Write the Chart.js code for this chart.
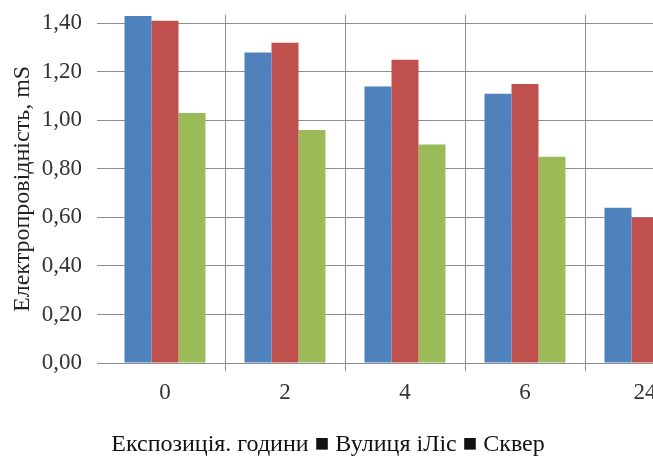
<!DOCTYPE html>
<html>
<head>
<meta charset="utf-8">
<script src="https://cdn.jsdelivr.net/npm/chart.js@4"></script>
<style>
  html, body { margin: 0; padding: 0; background: #fff; overflow: hidden; }
  #wrap { width: 720px; height: 473px; margin-top: -14px; }
</style>
</head>
<body>
<div id="wrap"><canvas id="chart" width="720" height="473"></canvas></div>
<script>
// дані з графіка
const hours = ['0', '2', '4', '6', '24'];
const seriesNames = ['Вулиця', 'Ліс', 'Сквер'];
const street = [1.43, 1.28, 1.14, 1.11, 0.64];
const forest = [1.41, 1.32, 1.25, 1.15, 0.60];
const square = [1.03, 0.96, 0.90, 0.85, null]; // останній стовпчик обрізано
const yTicks = [0, 0.2, 0.4, 0.6, 0.8, 1.0, 1.2, 1.4];
const bottomText = 'Експозиція. години ■ Вулиця іЛіс ■ Сквер';

const serif = "'Liberation Serif', 'DejaVu Serif', serif";
const gridGray = '#8e8e8e';

// підпис внизу (вісь + легенда одним рядком)
const bottomLabel = {
  id: 'bottomLabel',
  afterDraw(chart) {
    const ctx = chart.ctx;
    ctx.save();
    ctx.font = '24px ' + serif;
    ctx.fillStyle = '#111';
    ctx.textAlign = 'center';
    ctx.textBaseline = 'middle';
    ctx.fillText(bottomText, 328, 459);
    ctx.restore();
  }
};

new Chart(document.getElementById('chart'), {
  type: 'bar',
  data: {
    labels: hours,
    datasets: [
      { label: seriesNames[0], data: street, backgroundColor: '#4F81BD' },
      { label: seriesNames[1], data: forest, backgroundColor: '#C0504D' },
      { label: seriesNames[2], data: square, backgroundColor: '#9BBB59' }
    ]
  },
  options: {
    responsive: false,
    animation: false,
    layout: { padding: { left: 0, right: 15, top: 3, bottom: 0 } },
    datasets: { bar: { categoryPercentage: 0.675, barPercentage: 1.0 } },
    plugins: { legend: { display: false }, tooltip: { enabled: false } },
    scales: {
      x: {
        afterFit(scale) { scale.height = 96; },
        grid: {
          offset: true,
          color: ctx => ctx.index === 0 ? 'rgba(0,0,0,0)' : gridGray,
          tickLength: 8,
          lineWidth: 1
        },
        border: { display: true, color: gridGray },
        ticks: { color: '#333', font: { family: serif, size: 23 }, padding: 8 }
      },
      y: {
        min: 0,
        max: 1.435,
        afterFit(scale) { scale.width = 105; },
        afterBuildTicks(scale) {
          scale.ticks = yTicks.map(v => ({ value: v }));
        },
        grid: { color: gridGray, tickLength: 8, lineWidth: 1 },
        border: { display: false },
        ticks: {
          color: '#333',
          font: { family: serif, size: 23 },
          padding: 15,
          callback: v => v.toFixed(2).replace('.', ',')
        },
        title: {
          display: true,
          text: 'Електропровідність, mS',
          color: '#222',
          font: { family: serif, size: 24 },
          padding: { top: 8, bottom: 0 }
        }
      }
    }
  },
  plugins: [bottomLabel]
});
</script>
</body>
</html>
